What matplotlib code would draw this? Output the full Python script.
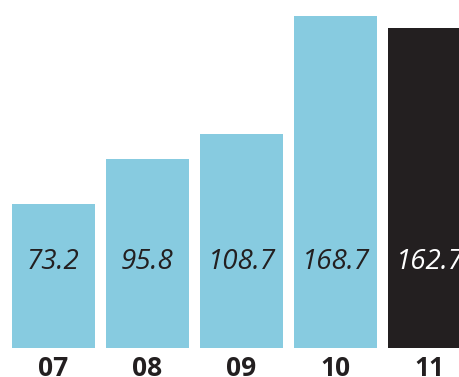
import matplotlib
matplotlib.use("Agg")
import matplotlib.pyplot as plt

years = ["07", "08", "09", "10", "11"]
values = [73.2, 95.8, 108.7, 168.7, 162.7]
colors = ["#87cbe0", "#87cbe0", "#87cbe0", "#87cbe0", "#231f20"]
text_colors = ["#231f20", "#231f20", "#231f20", "#231f20", "#ffffff"]

W, H = 459, 377
fig = plt.figure(figsize=(W / 100, H / 100), dpi=100)
# axes bottom sits at the bar baseline (348 px from the top)
ax = fig.add_axes([0, (H - 348) / H, 1, 348 / H])

x = list(range(len(years)))
ax.bar(x, values, width=0.883, color=colors)

for i, v in enumerate(values):
    ax.text(i, 43.7, "{:.1f}".format(v), ha="center", va="center",
            fontsize=20, style="italic", family="Open Sans",
            color=text_colors[i])

ax.set_xlim(-53.5 / 94, (W - 53.5) / 94)
ax.set_ylim(0, 348 / 1.968)
ax.set_xticks(x)
ax.set_xticklabels(years, fontsize=19, fontweight="bold", family="Open Sans",
                   color="#231f20")
ax.tick_params(axis="x", length=0, pad=5)
ax.set_yticks([])
for s in ax.spines.values():
    s.set_visible(False)

fig.savefig("out.png", dpi=100)
